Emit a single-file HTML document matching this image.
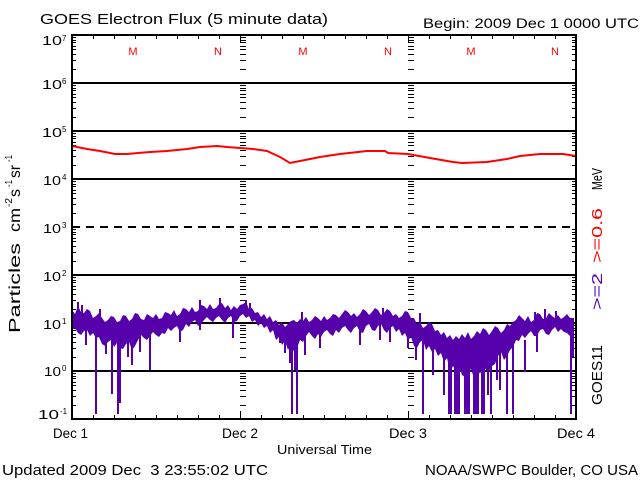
<!DOCTYPE html>
<html><head><meta charset="utf-8"><style>
html,body{margin:0;padding:0;background:#fff;}
svg{display:block;}
text{font-family:"Liberation Sans",sans-serif;}
</style></head><body>
<svg width="640" height="480" viewBox="0 0 640 480" xmlns="http://www.w3.org/2000/svg">
<defs>
<path id="tk" stroke="#000" stroke-width="1" fill="none" d="M0 37.5h4M0 40.5h4M0 42.5h4M0 46.5h4M0 49.5h4M0 54.5h4M0 60.5h4M0 69.5h4
M0 85.5h4M0 88.5h4M0 90.5h4M0 94.5h4M0 97.5h4M0 102.5h4M0 108.5h4M0 117.5h4
M0 133.5h4M0 136.5h4M0 138.5h4M0 142.5h4M0 145.5h4M0 150.5h4M0 156.5h4M0 165.5h4
M0 181.5h4M0 184.5h4M0 186.5h4M0 190.5h4M0 193.5h4M0 198.5h4M0 204.5h4M0 213.5h4
M0 229.5h4M0 232.5h4M0 234.5h4M0 238.5h4M0 241.5h4M0 246.5h4M0 252.5h4M0 261.5h4
M0 277.5h4M0 280.5h4M0 282.5h4M0 286.5h4M0 289.5h4M0 294.5h4M0 300.5h4M0 309.5h4
M0 325.5h4M0 328.5h4M0 330.5h4M0 334.5h4M0 337.5h4M0 342.5h4M0 348.5h4M0 357.5h4
M0 373.5h4M0 376.5h4M0 378.5h4M0 382.5h4M0 385.5h4M0 390.5h4M0 396.5h4M0 405.5h4"/>
</defs>
<rect x="0" y="0" width="640" height="480" fill="#fff"/>

<!-- grid lines -->
<g stroke="#000" stroke-width="2" shape-rendering="crispEdges">
<line x1="72" y1="83" x2="576" y2="83"/>
<line x1="72" y1="131" x2="576" y2="131"/>
<line x1="72" y1="179" x2="576" y2="179"/>
<line x1="72" y1="275" x2="576" y2="275"/>
<line x1="72" y1="323" x2="576" y2="323"/>
<line x1="72" y1="371" x2="576" y2="371"/>
<line x1="72" y1="227" x2="576" y2="227" stroke-dasharray="8,6"/>
</g>

<!-- minor ticks -->
<use href="#tk" x="72"/>
<use href="#tk" x="572"/>
<use href="#tk" transform="translate(240,0) scale(1.5,1)"/>
<use href="#tk" transform="translate(408,0) scale(1.5,1)"/>

<!-- x ticks -->
<path stroke="#000" stroke-width="1" fill="none" d="M93.5 35v4M114.5 35v4M135.5 35v4M156.5 35v4M177.5 35v4M198.5 35v4M219.5 35v4M261.5 35v4M282.5 35v4M303.5 35v4M324.5 35v4M345.5 35v4M366.5 35v4M387.5 35v4M429.5 35v4M450.5 35v4M471.5 35v4M492.5 35v4M513.5 35v4M534.5 35v4M555.5 35v4
M93.5 419v-4M114.5 419v-4M135.5 419v-4M156.5 419v-4M177.5 419v-4M198.5 419v-4M219.5 419v-4M261.5 419v-4M282.5 419v-4M303.5 419v-4M324.5 419v-4M345.5 419v-4M366.5 419v-4M387.5 419v-4M429.5 419v-4M450.5 419v-4M471.5 419v-4M492.5 419v-4M513.5 419v-4M534.5 419v-4M555.5 419v-4
M240.5 35v8M408.5 35v8M240.5 419v-8M408.5 419v-8"/>

<!-- red series -->
<polyline fill="none" stroke="#ff0000" stroke-width="2" points="72,146 87,149 100,151 115,154 127,154 150,152 167,151 187,149 200,147 217,146 227,147 240,148 253,149 267,151 280,157 290,163 300,161 310,159 320,157 340,154 367,151 385,151 388,153 408,154 430,158 453,162 462,163 487,162 507,159 520,156 540,154 563,154 576,156"/>

<!-- purple series -->
<g fill="#5500aa" stroke="#5500aa">
<polygon stroke="none" points="72,310 75,314 78,306 81,312 84,313 87,309 90,311 93,318 96,316 99,313 102,318 105,322 108,320 111,316 114,317 117,322 120,321 123,315 126,316 129,321 132,319 135,313 138,314 141,319 144,320 147,314 150,316 153,318 156,314 159,319 162,318 165,312 168,313 171,315 174,310 177,316 180,314 183,308 186,309 189,312 192,307 195,312 198,311 201,305 204,306 207,309 210,304 213,309 216,308 219,304 222,303 225,308 228,305 231,310 234,306 237,309 240,305 243,304 246,302 249,309 252,308 255,313 258,312 261,317 264,314 267,319 270,316 273,322 276,320 279,325 282,322 285,327 288,324 291,321 294,320 297,323 300,319 303,321 306,317 309,322 312,320 315,316 318,318 321,321 324,316 327,320 330,318 333,314 336,315 339,318 342,314 345,310 348,312 351,316 354,313 357,317 360,314 363,309 366,311 369,315 372,312 375,308 378,310 381,315 384,313 387,309 390,311 393,316 396,314 399,318 402,316 405,311 408,312 411,318 414,318 417,324 420,322 423,328 426,326 429,322 432,324 435,331 438,330 441,335 444,332 447,338 450,335 453,340 456,336 459,339 462,334 465,338 468,332 471,339 474,336 477,331 480,334 483,328 486,330 489,335 492,331 495,326 498,328 501,333 504,330 507,324 510,326 513,322 516,320 519,315 522,318 525,321 528,316 531,322 534,320 537,313 540,314 543,319 546,318 549,313 552,316 555,318 558,315 561,319 564,317 567,314 570,318 574,318 574,340 570,336 567,333 564,332 561,329 558,332 555,327 552,330 549,335 546,334 543,329 540,330 537,336 534,336 531,331 528,334 525,338 522,335 519,341 516,340 513,347 510,350 507,356 504,360 501,352 498,356 495,364 492,366 489,371 486,370 483,365 480,374 477,368 474,378 471,369 468,372 465,377 462,375 459,366 456,370 453,366 450,372 447,358 444,362 441,353 438,356 435,349 432,352 429,346 426,350 423,340 420,342 417,348 414,346 411,337 408,340 405,333 402,336 399,329 396,332 393,326 390,328 387,333 384,330 381,324 378,326 375,331 372,330 369,324 366,326 363,333 360,332 357,326 354,328 351,333 348,330 345,326 342,328 339,333 336,330 333,336 330,334 327,330 324,332 321,337 318,334 315,339 312,336 309,332 306,336 303,342 300,340 297,348 294,352 291,345 288,350 285,341 282,345 279,337 276,340 273,330 270,333 267,326 264,328 261,323 258,326 255,320 252,322 249,316 246,318 243,314 240,316 237,321 234,322 231,316 228,318 225,323 222,320 219,316 216,318 213,322 210,320 207,317 204,320 201,324 198,326 195,320 192,322 189,327 186,324 183,330 180,332 177,326 174,328 171,331 168,328 165,334 162,333 159,337 156,335 153,332 150,336 147,340 144,338 141,335 138,340 135,346 132,350 129,342 126,344 123,349 120,348 117,343 114,347 111,340 108,342 105,346 102,344 99,337 96,338 93,333 90,336 87,330 84,331 81,335 78,333 75,328 72,330"/>
<path fill="none" stroke-width="2" d="M86 330V345M96 330V414M106 330V354M112 330V394M118 330V414M120 330V403M128 330V357M132 330V365M140 330V352M150 330V370M180 320V342M200 320V330M233 315V338
M280 330V343M285 330V353M290 330V363M292 330V414M295 330V370M297 330V414M305 330V355M320 330V348M360 320V345M380 320V340M390 320V342
M408 330V348M416 330V360M423 330V414M433 340V375M444 340V395M449 340V414M451 340V414M455 340V414M457 340V414M459 340V414M465 340V414M467 340V414M469 340V414M474 340V414M476 340V414M478 340V414M482 340V414M484 340V414M488 340V395M491 340V414M497 340V380M500 340V390M507 340V414M513 340V414M525 340V372M537 330V352M571 330V414M573 330V357
M78 318V302M82 318V305M100 320V309M200 315V300M220 310V298M246 310V300M250 310V303M302 322V312M383 318V308M420 325V313M535 322V312M545 322V309M556 322V311"/>
</g>

<!-- frame -->
<rect x="72" y="35" width="504" height="384" fill="none" stroke="#000" stroke-width="2" shape-rendering="crispEdges"/>

<!-- titles -->
<text x="40" y="24" font-size="15" textLength="288" lengthAdjust="spacingAndGlyphs">GOES Electron Flux (5 minute data)</text>
<text x="423" y="28" font-size="13.5" textLength="216" lengthAdjust="spacingAndGlyphs">Begin: 2009 Dec 1 0000 UTC</text>

<!-- M / N markers -->
<g fill="#ff0000" font-size="11" text-anchor="middle">
<text x="133" y="55">M</text><text x="218" y="55">N</text>
<text x="303" y="55">M</text><text x="388" y="55">N</text>
<text x="471" y="55">M</text><text x="555" y="55">N</text>
</g>

<!-- y labels -->
<g font-size="13">
<text x="42" y="45" textLength="20" lengthAdjust="spacingAndGlyphs">10</text><text x="62" y="41" font-size="8">7</text>
<text x="42" y="89" textLength="20" lengthAdjust="spacingAndGlyphs">10</text><text x="62" y="84" font-size="8">6</text>
<text x="42" y="137" textLength="20" lengthAdjust="spacingAndGlyphs">10</text><text x="62" y="132" font-size="8">5</text>
<text x="43" y="185" textLength="18" lengthAdjust="spacingAndGlyphs">10</text><text x="62" y="180" font-size="8">4</text>
<text x="43" y="233" textLength="18" lengthAdjust="spacingAndGlyphs">10</text><text x="62" y="228" font-size="8">3</text>
<text x="43" y="281" textLength="18" lengthAdjust="spacingAndGlyphs">10</text><text x="62" y="276" font-size="8">2</text>
<text x="43" y="329" textLength="18" lengthAdjust="spacingAndGlyphs">10</text><text x="62" y="324" font-size="8">1</text>
<text x="44" y="376" textLength="17" lengthAdjust="spacingAndGlyphs">10</text><text x="62" y="371" font-size="8">0</text>
<text x="38" y="419" textLength="21" lengthAdjust="spacingAndGlyphs">10</text><text x="60" y="414" font-size="8">-1</text>
</g>

<!-- y axis title -->
<g transform="translate(20,333) rotate(-90)" font-size="16">
<text x="0" y="0" textLength="90" lengthAdjust="spacingAndGlyphs">Particles</text>
<text x="101" y="0" textLength="24" lengthAdjust="spacingAndGlyphs">cm</text>
<text x="126" y="-8" font-size="10" textLength="9" lengthAdjust="spacingAndGlyphs">-2</text>
<text x="136" y="0" textLength="8" lengthAdjust="spacingAndGlyphs">s</text>
<text x="146" y="-8" font-size="10" textLength="7" lengthAdjust="spacingAndGlyphs">-1</text>
<text x="155" y="0" textLength="13" lengthAdjust="spacingAndGlyphs">sr</text>
<text x="171" y="-8" font-size="10" textLength="7" lengthAdjust="spacingAndGlyphs">-1</text>
</g>

<!-- right labels -->
<g font-size="15">
<text transform="translate(602,405) rotate(-90)" textLength="60" lengthAdjust="spacingAndGlyphs">GOES11</text>
<text transform="translate(602,310) rotate(-90)" textLength="37" lengthAdjust="spacingAndGlyphs" fill="#5500aa">&gt;=2</text>
<text transform="translate(602,263) rotate(-90)" textLength="55" lengthAdjust="spacingAndGlyphs" fill="#ff0000">&gt;=0.6</text>
<text transform="translate(602,190) rotate(-90)" textLength="22" lengthAdjust="spacingAndGlyphs">MeV</text>
</g>

<!-- x labels -->
<g font-size="13.5">
<text x="53" y="438" textLength="35" lengthAdjust="spacingAndGlyphs">Dec 1</text>
<text x="222" y="438" textLength="36" lengthAdjust="spacingAndGlyphs">Dec 2</text>
<text x="389" y="438" textLength="38" lengthAdjust="spacingAndGlyphs">Dec 3</text>
<text x="557" y="438" textLength="38" lengthAdjust="spacingAndGlyphs">Dec 4</text>
<text x="277" y="454" font-size="13" textLength="95" lengthAdjust="spacingAndGlyphs">Universal Time</text>
<text x="2" y="475" font-size="14.5" textLength="266" lengthAdjust="spacingAndGlyphs" xml:space="preserve">Updated 2009 Dec  3 23:55:02 UTC</text>
<text x="425" y="475" font-size="14.5" textLength="213" lengthAdjust="spacingAndGlyphs">NOAA/SWPC Boulder, CO USA</text>
</g>
</svg>
</body></html>
